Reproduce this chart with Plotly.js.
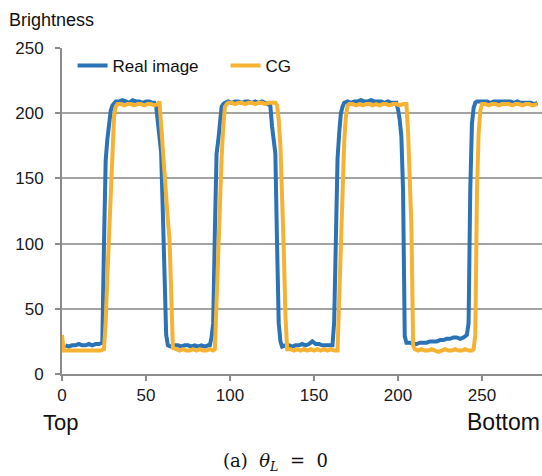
<!DOCTYPE html>
<html>
<head>
<meta charset="utf-8">
<script src="https://cdn.plot.ly/plotly-3.0.1.min.js"></script>
<style>
html,body{margin:0;padding:0;background:#fff;}
#chart{width:542px;height:476px;}
</style>
</head>
<body>
<div id="chart"></div>
<script>
// Real image (blue)
const realX = [2,4,6,8,10,12,14,16,18,20,22,24,
  25,26,27,28,29,30,31,32,
  34,36,38,40,42,44,46,48,50,52,54,55,
  56,57,58,59,60,61,62,63,
  65,67,69,71,73,75,77,79,81,83,85,87,88,
  89,90,91,92,93,94,95,96,97,
  99,101,103,105,107,109,111,113,115,117,119,121,123,
  124,125,126,127,128,129,130,131,
  133,135,137,139,141,143,145,147,149,151,153,155,157,159,161,
  162,163,164,165,166,167,168,
  170,172,174,176,178,180,182,184,186,188,190,192,194,196,198,199,
  200,201,202,203,204,205,
  207,209,211,213,215,217,219,221,223,225,227,229,231,233,235,237,239,241,
  242,243,244,245,246,247,
  249,251,253,255,257,259,261,263,265,267,269,271,273,275,277,279,281,283];
const realY = [22,21,22,22,23,22,22,23,22,23,23,24,
  100,164,180,192,202,206,208,209,
  209,210,209,208,210,209,209,208,209,209,208,208,
  206,196,185,170,125,78,30,22,
  21,22,22,21,22,22,21,22,21,22,21,22,22,
  28,39,110,169,179,195,205,207,208,
  209,208,209,209,208,209,209,208,209,208,209,208,207,
  206,190,179,169,100,39,25,21,
  22,22,21,22,22,23,22,23,25,23,23,22,22,22,22,
  40,110,165,185,200,205,208,
  209,208,209,209,210,209,209,210,209,209,209,208,209,208,208,208,
  203,195,182,141,29,24,
  24,23,23,24,24,24,25,25,25,26,26,27,27,28,28,27,28,30,
  39,141,192,204,208,209,
  209,209,209,208,209,209,209,209,209,209,208,209,208,208,208,208,207,208];

// CG (yellow)
const cgX = [0,1,3,5,7,9,11,13,15,17,19,21,23,25,
  26,27,28,29,30,31,32,33,
  35,37,39,41,43,45,47,49,51,53,55,57,58,
  59,60,61,62,63,64,65,66,
  68,70,72,74,76,78,80,82,84,86,88,90,91,
  92,93,94,95,96,97,98,99,
  101,103,105,107,109,111,113,115,117,119,121,123,125,127,
  128,129,130,131,132,133,134,
  136,138,140,142,144,146,148,150,152,154,156,158,160,162,164,
  165,166,167,168,169,170,171,
  173,175,177,179,181,183,185,187,189,191,193,195,197,199,201,203,205,
  206,207,208,209,210,
  212,214,216,218,220,222,224,226,228,230,232,234,236,238,240,242,244,245,
  246,247,248,249,250,
  252,254,256,258,260,262,264,266,268,270,272,274,276,278,280,282,283];
const cgY = [30,18,18,18,18,18,18,18,18,18,18,18,18,19,
  40,75,105,150,180,198,205,207,
  207,206,207,207,206,207,207,206,207,207,206,207,209,
  190,165,148,132,118,103,50,20,
  19,18,19,18,18,19,18,19,18,18,19,18,19,
  60,103,135,166,190,205,207,208,
  208,207,208,208,207,208,208,207,208,208,207,208,208,208,
  206,195,175,140,95,45,19,
  19,18,19,18,19,18,19,18,19,18,19,18,19,18,18,
  60,116,150,179,198,206,207,
  207,206,207,206,207,207,206,207,206,207,207,206,207,207,206,207,207,
  185,150,112,22,19,
  18,19,18,18,19,18,17,18,19,18,18,19,18,18,19,18,18,19,
  30,141,185,202,207,
  207,206,207,207,206,207,207,207,206,207,207,206,207,207,206,207,207];

const xTicks = [0,50,100,150,200,250];
const yTicks = [0,50,100,150,200,250];
const seriesNames = ['Real image','CG'];

const axisFont = {family:'Liberation Sans, Arial, sans-serif', size:17, color:'#1a1a1a'};

const traces = [
  {x: realX, y: realY, name: seriesNames[0], type:'scatter', mode:'lines',
   line:{color:'#2b73b7', width:4}},
  {x: cgX, y: cgY, name: seriesNames[1], type:'scatter', mode:'lines',
   line:{color:'#f6b233', width:4}}
];

const layout = {
  width:542, height:476,
  margin:{l:62, r:0, t:48, b:102},
  paper_bgcolor:'#fff', plot_bgcolor:'#fff',
  showlegend:true,
  legend:{orientation:'h', x:0.022, xanchor:'left', y:1, yanchor:'top',
    font:{family:'Liberation Sans, Arial, sans-serif', size:17, color:'#111'},
    bgcolor:'rgba(0,0,0,0)', entrywidth:108, entrywidthmode:'pixels'},
  xaxis:{range:[0,285.7], tickvals:xTicks, ticktext:xTicks.map(String),
    showgrid:false, zeroline:false, showline:true, linecolor:'#8c8c8c', linewidth:2,
    ticks:'outside', ticklen:5, tickwidth:2, tickcolor:'#8c8c8c',
    tickfont:axisFont, fixedrange:true},
  yaxis:{range:[0,250], tickvals:yTicks, ticktext:yTicks.map(String),
    showgrid:true, gridcolor:'#a3a3a3', gridwidth:2, zeroline:false,
    showline:true, linecolor:'#8c8c8c', linewidth:2,
    ticks:'outside', ticklen:5, tickwidth:2, tickcolor:'#8c8c8c',
    ticklabelstandoff:8,
    tickfont:axisFont, fixedrange:true},
  annotations:[
    {text:'Brightness', xref:'paper', yref:'paper', x:-0.115, y:1.0, xanchor:'left', yanchor:'bottom',
     yshift:16, showarrow:false, font:{family:'Liberation Sans, Arial, sans-serif', size:18, color:'#111'}},
    {text:'Top', xref:'paper', yref:'paper', x:0, y:0, xanchor:'center', yanchor:'middle',
     yshift:-48, xshift:-2, showarrow:false, font:{family:'Liberation Sans, Arial, sans-serif', size:22, color:'#111'}},
    {text:'Bottom', xref:'paper', yref:'paper', x:1, y:0, xanchor:'right', yanchor:'middle',
     yshift:-48, xshift:0, showarrow:false, font:{family:'Liberation Sans, Arial, sans-serif', size:23, color:'#111'}},
    {text:'(a)\u00a0 <i>θ</i><sub><i>L</i></sub>\u00a0 =\u00a0 0', xref:'paper', yref:'paper', x:0.445, y:0, xanchor:'center', yanchor:'middle',
     yshift:-88, showarrow:false, font:{family:'DejaVu Serif, Liberation Serif, serif', size:18, color:'#111'}}
  ]
};

Plotly.newPlot('chart', traces, layout, {displayModeBar:false, staticPlot:true});
</script>
</body>
</html>
